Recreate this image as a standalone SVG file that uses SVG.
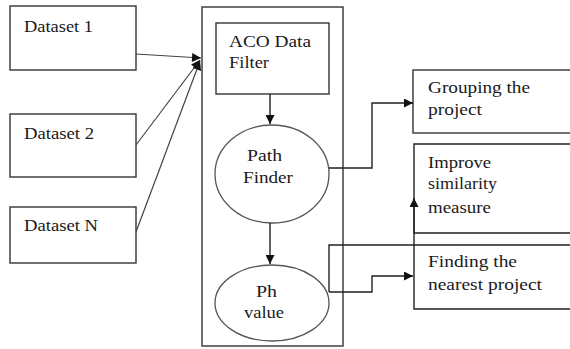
<svg xmlns="http://www.w3.org/2000/svg" width="570" height="349" viewBox="0 0 570 349">
  <defs>
    <marker id="arrow" viewBox="0 0 10 10" refX="10" refY="5" markerWidth="10" markerHeight="9" markerUnits="userSpaceOnUse" orient="auto">
      <path d="M0,0 L10,5 L0,10 Z" fill="#111"/>
    </marker>
    <style>
      .box { fill: #fff; stroke: #333; stroke-width: 1.4; }
      .oval { fill: #fff; stroke: #555; stroke-width: 1.3; }
      .line { fill: none; stroke: #222; stroke-width: 1.4; }
      .thin { fill: none; stroke: #444; stroke-width: 1.2; }
      .lbl { font-family: 'Liberation Serif', 'DejaVu Serif', serif; font-size: 16px; fill: #1a1a1a; }
    </style>
  </defs>
  <rect width="570" height="349" fill="#fff"/>

  <!-- main process container -->
  <g id="container">
    <rect class="box" x="202" y="7" width="141" height="339"/>
  </g>

  <g id="dataset1">
    <rect class="box" x="10" y="6" width="126" height="64"/>
    <text class="lbl" font-family="Liberation Serif, serif" x="24" y="32" textLength="69" lengthAdjust="spacingAndGlyphs">Dataset 1</text>
  </g>
  <g id="dataset2">
    <rect class="box" x="10" y="114" width="126" height="63"/>
    <text class="lbl" font-family="Liberation Serif, serif" x="24" y="139" textLength="70" lengthAdjust="spacingAndGlyphs">Dataset 2</text>
  </g>
  <g id="datasetN">
    <rect class="box" x="10" y="207" width="126" height="56"/>
    <text class="lbl" font-family="Liberation Serif, serif" x="24" y="231" textLength="74" lengthAdjust="spacingAndGlyphs">Dataset N</text>
  </g>

  <g id="aco-filter">
    <rect class="box" x="216" y="23" width="113" height="71"/>
    <text class="lbl" font-family="Liberation Serif, serif" x="229" y="47" textLength="82" lengthAdjust="spacingAndGlyphs">ACO Data</text>
    <text class="lbl" font-family="Liberation Serif, serif" x="229" y="68" textLength="40" lengthAdjust="spacingAndGlyphs">Filter</text>
  </g>

  <g id="path-finder">
    <ellipse class="oval" cx="272" cy="174" rx="57" ry="49"/>
    <text class="lbl" font-family="Liberation Serif, serif" x="247" y="161" textLength="35" lengthAdjust="spacingAndGlyphs">Path</text>
    <text class="lbl" font-family="Liberation Serif, serif" x="243" y="183" textLength="50" lengthAdjust="spacingAndGlyphs">Finder</text>
  </g>

  <g id="ph-value">
    <ellipse class="oval" cx="272" cy="303" rx="57" ry="38"/>
    <text class="lbl" font-family="Liberation Serif, serif" x="256" y="297" textLength="21" lengthAdjust="spacingAndGlyphs">Ph</text>
    <text class="lbl" font-family="Liberation Serif, serif" x="244" y="318" textLength="40" lengthAdjust="spacingAndGlyphs">value</text>
  </g>

  <g id="grouping">
    <rect class="box" x="413" y="70" width="170" height="63"/>
    <text class="lbl" font-family="Liberation Serif, serif" x="428" y="93" textLength="102" lengthAdjust="spacingAndGlyphs">Grouping the</text>
    <text class="lbl" font-family="Liberation Serif, serif" x="428" y="115" textLength="54" lengthAdjust="spacingAndGlyphs">project</text>
  </g>

  <g id="improve">
    <path class="line" d="M580,144 H414 V233 H580"/>
    <text class="lbl" font-family="Liberation Serif, serif" x="428" y="168" textLength="63" lengthAdjust="spacingAndGlyphs">Improve</text>
    <text class="lbl" font-family="Liberation Serif, serif" x="428" y="189" textLength="69" lengthAdjust="spacingAndGlyphs">similarity</text>
    <text class="lbl" font-family="Liberation Serif, serif" x="428" y="213" textLength="63" lengthAdjust="spacingAndGlyphs">measure</text>
  </g>

  <g id="nearest">
    <path class="line" d="M580,245 H329 V292"/>
    <path class="line" d="M414,233 V309 H580"/>
    <text class="lbl" font-family="Liberation Serif, serif" x="428" y="267" textLength="89" lengthAdjust="spacingAndGlyphs">Finding the</text>
    <text class="lbl" font-family="Liberation Serif, serif" x="428" y="290" textLength="114" lengthAdjust="spacingAndGlyphs">nearest project</text>
  </g>

  <g id="connectors">
    <line class="thin" x1="136" y1="54" x2="201" y2="58" marker-end="url(#arrow)"/>
    <line class="thin" x1="136" y1="145" x2="200" y2="60" marker-end="url(#arrow)"/>
    <line class="thin" x1="136" y1="232" x2="200" y2="61" marker-end="url(#arrow)"/>
    <line class="line" x1="270" y1="94" x2="270" y2="124" marker-end="url(#arrow)"/>
    <line class="line" x1="270" y1="223" x2="270" y2="264" marker-end="url(#arrow)"/>
    <path class="line" d="M329,168 H372 V103 H413" marker-end="url(#arrow)"/>
    <path class="line" d="M329,292 H372 V276 H413" marker-end="url(#arrow)"/>
    <line class="line" x1="414" y1="233" x2="414" y2="198" marker-end="url(#arrow)"/>
  </g>
</svg>
